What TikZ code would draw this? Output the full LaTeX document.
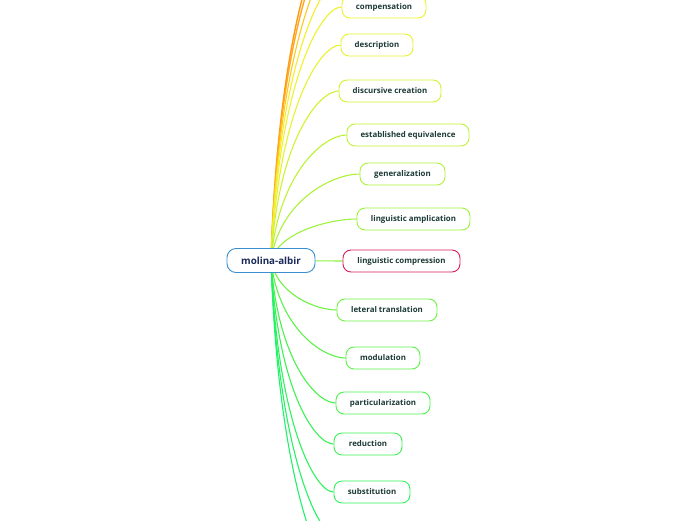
\documentclass[tikz,border=0pt]{standalone}
\usepackage{fontspec}
\setmainfont{Open Sans}
\usetikzlibrary{calc,backgrounds}
\definecolor{txt}{HTML}{1C3A36}
\definecolor{roottxt}{HTML}{1A2A5A}
\definecolor{rootb}{HTML}{3A8FD0}
\definecolor{cOrA}{HTML}{FF9A10}
\definecolor{cOrB}{HTML}{FFA820}
\definecolor{cOrC}{HTML}{FFC820}
\definecolor{cYe}{HTML}{F4EE2A}
\definecolor{cComp}{HTML}{EEF22C}
\definecolor{cDesc}{HTML}{E6F22C}
\definecolor{cDisc}{HTML}{D2F230}
\definecolor{cEst}{HTML}{BEF234}
\definecolor{cGen}{HTML}{AEF238}
\definecolor{cAmp}{HTML}{9CF23C}
\definecolor{cCmpL}{HTML}{88F240}
\definecolor{cCmpB}{HTML}{D81E5B}
\definecolor{cLet}{HTML}{70F244}
\definecolor{cMod}{HTML}{5CF248}
\definecolor{cPar}{HTML}{4CF24E}
\definecolor{cRed}{HTML}{3CF254}
\definecolor{cSub}{HTML}{30F25C}
\definecolor{cBotA}{HTML}{26F264}
\definecolor{cBotB}{HTML}{1EF26A}
\newcommand{\mmlink}[3][1.1pt]{%
  \draw[#2,line width=#1] let \p1=(root.center), \p2=(#3) in
    (\p1) .. controls ({\x1+0.1*(\x2-\x1)},{\y1+0.7*(\y2-\y1)})
    and ({\x2-0.3*(\x2-\x1)},\y2) .. (\p2);}
\begin{document}
\begin{tikzpicture}[x=1pt,y=-1pt,
  leaf/.style={draw,line width=0.9pt,fill=white,rounded corners=8pt,
    minimum height=22pt,inner sep=0pt,font=\bfseries\fontsize{7.9}{8}\selectfont,text=txt},
  rootbox/.style={draw=rootb,line width=0.9pt,fill=white,rounded corners=9pt,
    minimum height=24pt,minimum width=88pt,inner sep=0pt,
    font=\bfseries\fontsize{9.8}{10}\selectfont,text=roottxt}]
\useasboundingbox (0,0) rectangle (696,520);
\clip (0,0) rectangle (696,520);
\node[rootbox] (root) at (271,260.5) {molina-albir};
\node[leaf,draw=cComp,minimum width=84pt] (comp) at (384,7) {compensation};
\node[leaf,draw=cDesc,minimum width=72pt] (desc) at (377,45) {description};
\node[leaf,draw=cDisc,minimum width=102pt] (disc) at (390,91) {discursive creation};
\node[leaf,draw=cEst,minimum width=122pt] (est) at (408,135) {established equivalence};
\node[leaf,draw=cGen,minimum width=85pt] (gen) at (402.5,174) {generalization};
\node[leaf,draw=cAmp,minimum width=113pt] (amp) at (413.5,219) {linguistic amplication};
\node[leaf,draw=cCmpB,minimum width=117pt] (cmp) at (401.5,261) {linguistic compression};
\node[leaf,draw=cLet,minimum width=100pt] (let) at (387,310) {leteral translation};
\node[leaf,draw=cMod,minimum width=74pt] (mod) at (383,358) {modulation};
\node[leaf,draw=cPar,minimum width=94pt] (par) at (383,403) {particularization};
\node[leaf,draw=cRed,minimum width=68pt] (red) at (368,444) {reduction};
\node[leaf,draw=cSub,minimum width=76pt] (sub) at (372,492) {substitution};
\coordinate (offA) at (350,-95);
\coordinate (offB) at (350,-82);
\coordinate (offC) at (348,-55);
\coordinate (offD) at (345,-25);
\coordinate (offE) at (340,540);
\coordinate (offF) at (345,585);
\begin{scope}[on background layer]
\mmlink[1.4pt]{cOrA}{offA}
\mmlink[1.4pt]{cOrB}{offB}
\mmlink{cOrC}{offC}
\mmlink{cYe}{offD}
\mmlink{cComp}{comp.west}
\mmlink{cDesc}{desc.west}
\mmlink{cDisc}{disc.west}
\mmlink{cEst}{est.west}
\mmlink{cGen}{gen.west}
\mmlink{cAmp}{amp.west}
\draw[cCmpL,line width=1.1pt] (root.center) -- (cmp.west);
\mmlink{cLet}{let.west}
\mmlink{cMod}{mod.west}
\mmlink{cPar}{par.west}
\mmlink{cRed}{red.west}
\mmlink{cSub}{sub.west}
\mmlink{cBotA}{offE}
\mmlink{cBotB}{offF}
\end{scope}
\end{tikzpicture}
\end{document}
